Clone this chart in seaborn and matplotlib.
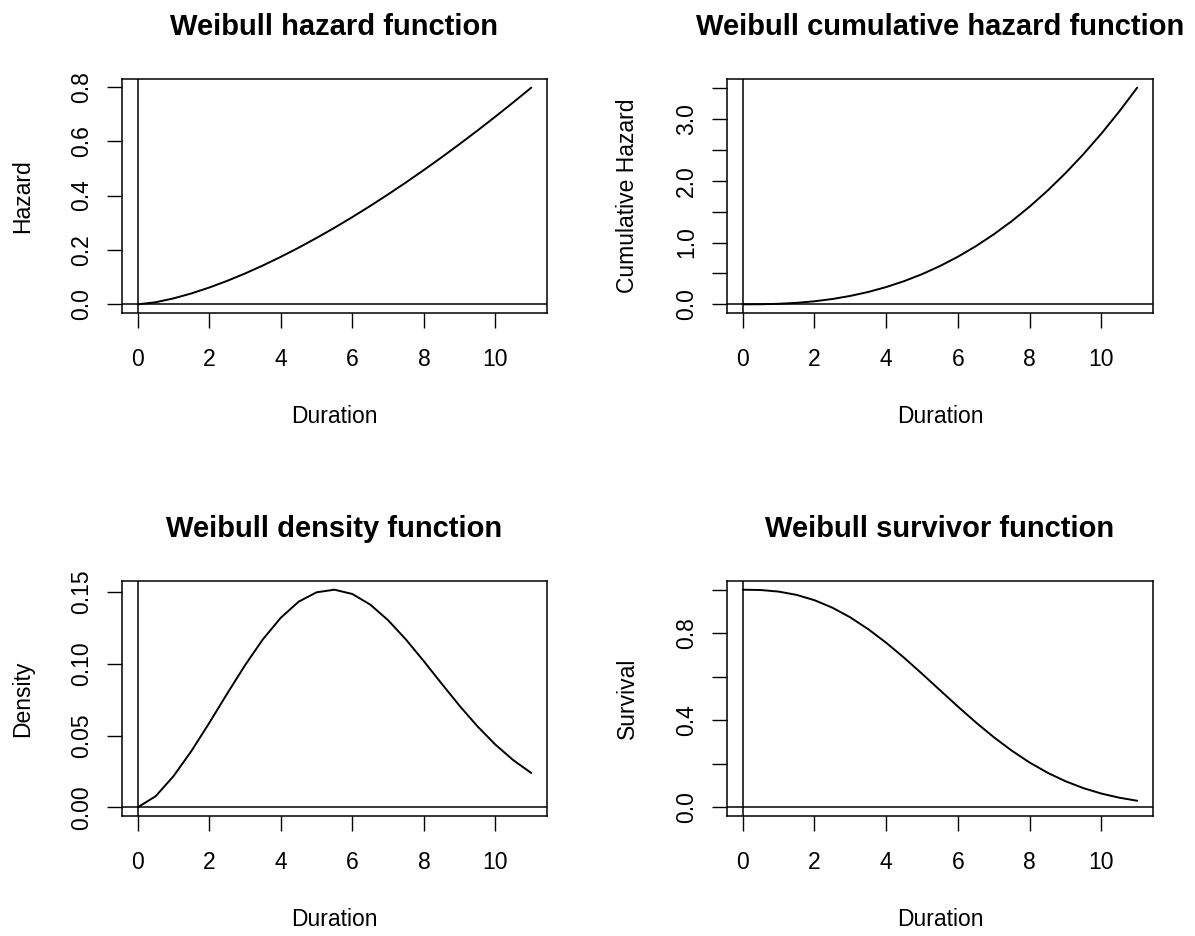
import numpy as np
import pandas as pd
import matplotlib
matplotlib.use("Agg")
import matplotlib.pyplot as plt
import seaborn as sns

# values (duration 0..11, step 0.5)
duration = [0.0, 0.5, 1.0, 1.5, 2.0, 2.5, 3.0, 3.5, 4.0, 4.5, 5.0, 5.5,
            6.0, 6.5, 7.0, 7.5, 8.0, 8.5, 9.0, 9.5, 10.0, 10.5, 11.0]
hazard = [0.0, 0.0077, 0.0218, 0.0401, 0.0618, 0.0863, 0.1135, 0.1430,
          0.1747, 0.2085, 0.2442, 0.2817, 0.3210, 0.3619, 0.4045, 0.4486,
          0.4942, 0.5412, 0.5897, 0.6395, 0.6906, 0.7431, 0.7968]
cum_hazard = [0.0, 0.0015, 0.0087, 0.0241, 0.0494, 0.0863, 0.1362, 0.2002,
              0.2796, 0.3753, 0.4884, 0.6198, 0.7704, 0.9410, 1.1326, 1.3458,
              1.5814, 1.8402, 2.1228, 2.4301, 2.7626, 3.1210, 3.5059]
density = [0.0, 0.0077, 0.0217, 0.0392, 0.0588, 0.0792, 0.0990, 0.1171,
           0.1321, 0.1433, 0.1498, 0.1516, 0.1486, 0.1412, 0.1303, 0.1168,
           0.1017, 0.0860, 0.0706, 0.0563, 0.0436, 0.0328, 0.0239]
survival = [1.0, 0.9985, 0.9913, 0.9762, 0.9518, 0.9173, 0.8727, 0.8185,
            0.7561, 0.6871, 0.6136, 0.5381, 0.4629, 0.3902, 0.3222, 0.2604,
            0.2057, 0.1588, 0.1197, 0.0880, 0.0631, 0.0441, 0.0300]

x_ticks = [0, 2, 4, 6, 8, 10]

panels = [
    ("Weibull hazard function", "Hazard", hazard,
     [0.0, 0.2, 0.4, 0.6, 0.8], ["0.0", "0.2", "0.4", "0.6", "0.8"]),
    ("Weibull cumulative hazard function", "Cumulative Hazard", cum_hazard,
     [0.0, 0.5, 1.0, 1.5, 2.0, 2.5, 3.0, 3.5],
     ["0.0", "", "1.0", "", "2.0", "", "3.0", ""]),
    ("Weibull density function", "Density", density,
     [0.0, 0.05, 0.10, 0.15], ["0.00", "0.05", "0.10", "0.15"]),
    ("Weibull survivor function", "Survival", survival,
     [0.0, 0.2, 0.4, 0.6, 0.8, 1.0], ["0.0", "", "0.4", "", "0.8", ""]),
]

sns.set_style("white")
plt.rcParams['font.family'] = ['Liberation Sans', 'DejaVu Sans']

fig = plt.figure(figsize=(11.95, 9.36), dpi=100)
W, H = 1195, 936
# panel boxes in pixels: left, top, right, bottom
boxes = [(122, 79, 547, 313), (727, 79, 1153, 313),
         (122, 581, 547, 816), (727, 581, 1153, 816)]

for (title, ylab, yvals, yt, ytl), (l, t, r, b) in zip(panels, boxes):
    ax = fig.add_axes([l / W, 1 - b / H, (r - l) / W, (b - t) / H])
    df = pd.DataFrame({"Duration": duration, "value": yvals})
    sns.lineplot(data=df, x="Duration", y="value", ax=ax, color="black",
                 linewidth=1.4)
    ax.axvline(0, color="black", linewidth=1.1)
    ax.axhline(0, color="black", linewidth=1.1)

    # R style 4% padding
    x0, x1 = 0, max(duration)
    ax.set_xlim(x0 - 0.04 * (x1 - x0), x1 + 0.04 * (x1 - x0))
    y0, y1 = min(0, min(yvals)), max(yvals)
    ax.set_ylim(y0 - 0.04 * (y1 - y0), y1 + 0.04 * (y1 - y0))

    ax.set_xticks(x_ticks)
    ax.set_xticklabels([str(v) for v in x_ticks])
    ax.set_yticks(yt)
    ax.set_yticklabels(ytl, rotation=90, va="center")
    ax.tick_params(axis="both", direction="out", length=11, width=1,
                   color="black", labelsize=16.5, labelcolor="black")
    ax.tick_params(axis="x", pad=14)
    ax.tick_params(axis="y", pad=10)
    ax.tick_params(bottom=True, left=True)

    for s in ax.spines.values():
        s.set_color("black")
        s.set_linewidth(1.1)

    ax.set_xlabel("Duration", fontsize=16.5, color="black")
    ax.set_ylabel(ylab, fontsize=16.5, color="black")
    ax.xaxis.set_label_coords(0.5, -(405 - 313) / 234)
    ax.yaxis.set_label_coords(-0.207, 0.5)
    ax.set_title(title, fontsize=21, fontweight="bold", pad=32, color="black")

fig.savefig("out.png", dpi=100)
